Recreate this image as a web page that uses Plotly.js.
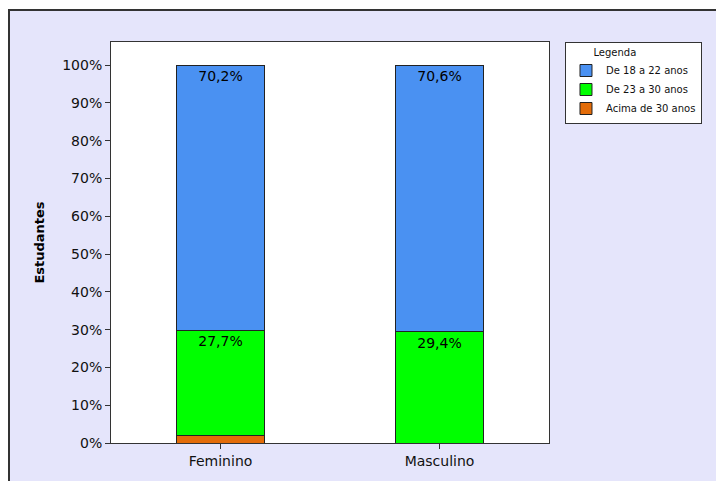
<!DOCTYPE html>
<html>
<head>
<meta charset="utf-8">
<script src="https://cdn.plot.ly/plotly-3.0.1.min.js"></script>
<style>
  html, body { margin: 0; padding: 0; background: #ffffff; }
  #frame { position: absolute; left: 8px; top: 9px; width: 708px; height: 472px;
           background: #e5e5fb; border-top: 2px solid #333; border-left: 2px solid #333; box-sizing: border-box; }
  #chart { position: absolute; left: 0; top: 0; width: 716px; height: 481px; }
</style>
</head>
<body>
<div id="frame"></div>
<div id="chart"></div>
<script>
const categories = ["Feminino", "Masculino"];
const seriesNames = ["Acima de 30 anos", "De 23 a 30 anos", "De 18 a 22 anos"];
const acima30 = [2.1, 0];
const de23a30 = [27.7, 29.4];
const de18a22 = [70.2, 70.6];
const labels23a30 = ["27,7%", "29,4%"];
const labels18a22 = ["70,2%", "70,6%"];
const colors = ["#e36c09", "#00ff00", "#4a91f2"];

const font = "DejaVu Sans, Verdana, sans-serif";
function mk(name, y, color, text) {
  return {
    type: "bar", name: name, x: categories, y: y, width: 0.4,
    marker: { color: color, line: { color: "#222", width: 1 } },
    text: text, textposition: text ? "inside" : "none",
    insidetextanchor: "end", textangle: 0, constraintext: "none",
    insidetextfont: { family: font, size: 14, color: "#000" },
    hoverinfo: "none"
  };
}
const data = [
  mk(seriesNames[0], acima30, colors[0], null),
  mk(seriesNames[1], de23a30, colors[1], labels23a30),
  mk(seriesNames[2], de18a22, colors[2], labels18a22)
];
const layout = {
  width: 716, height: 481,
  margin: { l: 111, r: 167, t: 42, b: 38 },
  paper_bgcolor: "rgba(0,0,0,0)", plot_bgcolor: "#ffffff",
  barmode: "stack", showlegend: true,
  font: { family: font, size: 14, color: "#111" },
  xaxis: {
    type: "category", range: [-0.5, 1.5], showgrid: false,
    showline: true, mirror: true, linecolor: "#333", linewidth: 1,
    ticks: "outside", ticklen: 5, tickcolor: "#333",
    tickfont: { family: font, size: 14, color: "#111" }
  },
  yaxis: {
    range: [0, 106.1], tickvals: [0,10,20,30,40,50,60,70,80,90,100],
    ticktext: ["0%","10%","20%","30%","40%","50%","60%","70%","80%","90%","100%"],
    showgrid: false, zeroline: false,
    showline: true, mirror: true, linecolor: "#333", linewidth: 1,
    ticks: "outside", ticklen: 5, tickcolor: "#333",
    tickfont: { family: font, size: 14, color: "#111" },
    title: { text: "<b>Estudantes</b>", font: { family: font, size: 13, color: "#000" }, standoff: 14 }
  },
  legend: {
    x: 1.0365, xanchor: "left", y: 1, yanchor: "top",
    bgcolor: "#ffffff", bordercolor: "#333", borderwidth: 1,
    traceorder: "reversed",
    font: { family: font, size: 10, color: "#111" },
    title: { text: "&nbsp;&nbsp;&nbsp;&nbsp;&nbsp;&nbsp;&nbsp;&nbsp;Legenda", font: { family: font, size: 10, color: "#111" } },
    itemwidth: 30, tracegroupgap: 0
  }
};
Plotly.newPlot("chart", data, layout, { displayModeBar: false, staticPlot: true });
</script>
</body>
</html>
